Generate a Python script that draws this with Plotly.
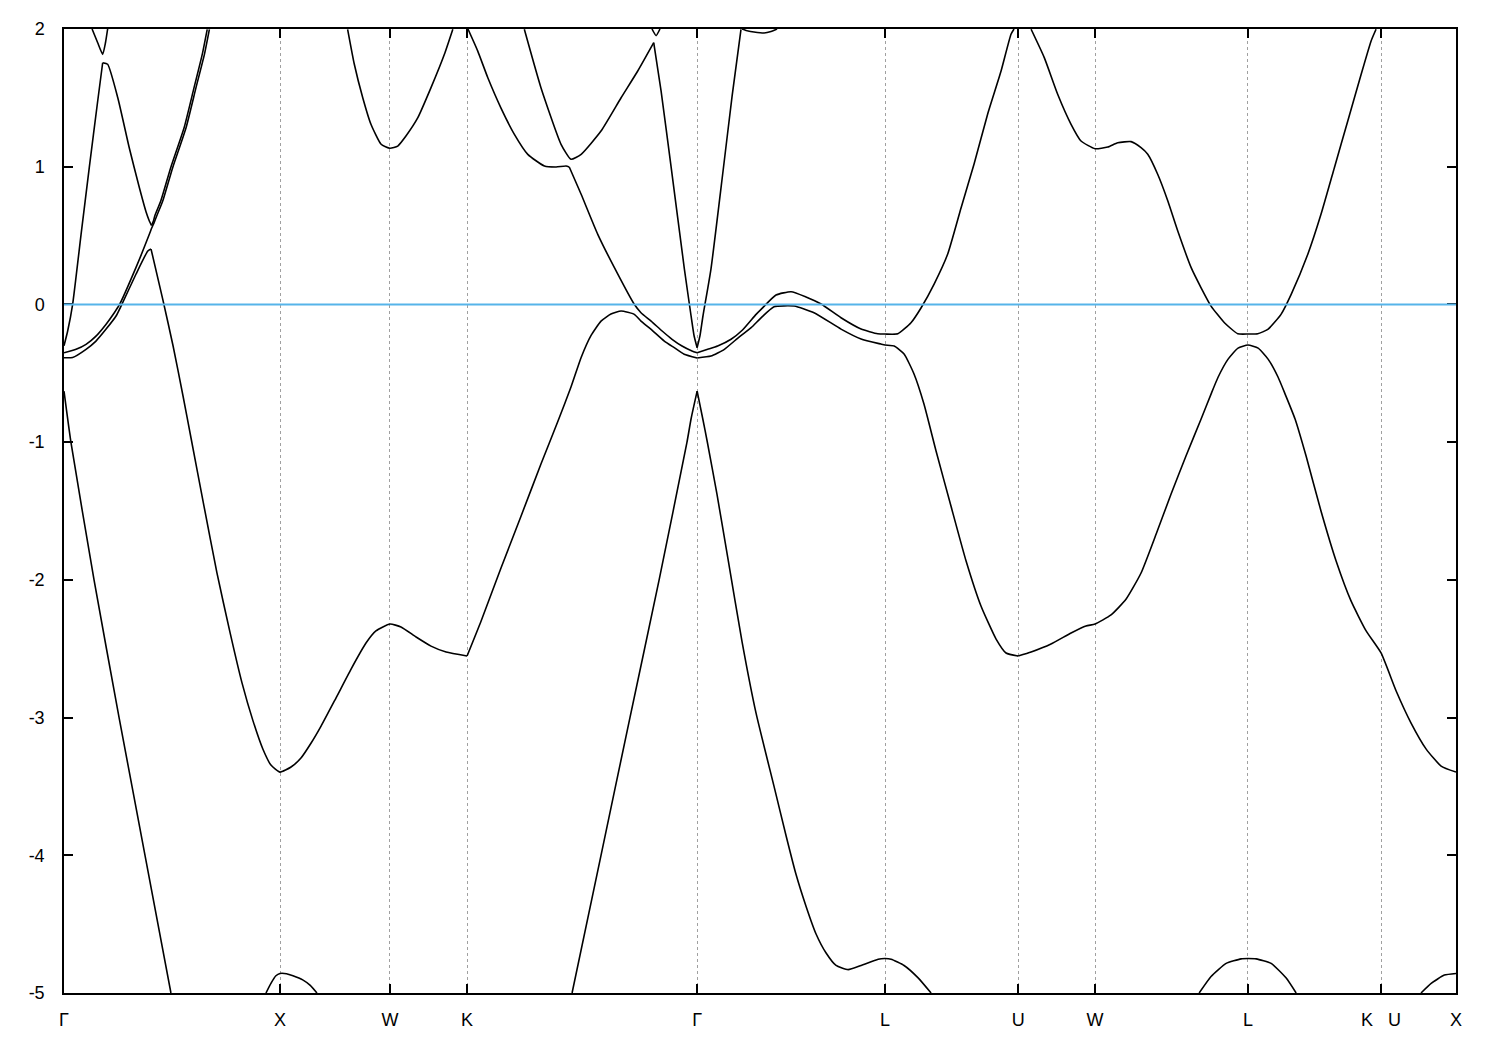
import plotly.graph_objects as go

# High-symmetry path (k in units of the Gamma-X distance)
k_ticks = [0, 1.0, 1.509, 1.866, 2.931, 3.801, 4.417, 4.773, 5.481, 6.097, 6.444]
k_labels = ["Γ", "X", "W", "K", "Γ", "L", "U", "W", "L", "K\u00a0\u00a0\u00a0U", "X"]
e_ticks = [-5, -4, -3, -2, -1, 0, 1, 2]
e_labels = ["-5", "-4", "-3", "-2", "-1", "0", "1", "2"]
E_fermi = 0.0

# ---- lowest band pieces ----
bandA_1_k = [0, 0.032, 0.139, 0.255, 0.375, 0.495]
bandA_1_E = [-0.63, -1.0, -2.0, -3.0, -4.0, -5.0]
bandA_2_k = [0.935, 0.958, 0.981, 1.0, 1.03, 1.06, 1.105, 1.14, 1.171]
bandA_2_E = [-5.0, -4.93, -4.875, -4.858, -4.86, -4.875, -4.905, -4.945, -5.0]
bandA_3_k = [2.352, 2.486, 2.620, 2.755, 2.884, 2.903, 2.931]
bandA_3_E = [-5.0, -4.0, -3.0, -2.0, -1.0, -0.83, -0.63]
bandA_4_k = [2.931, 2.957, 2.977, 3.023, 3.074, 3.139, 3.204, 3.287, 3.343, 3.389, 3.435,
             3.481, 3.528, 3.574, 3.630, 3.690, 3.769, 3.801, 3.829, 3.889, 3.954, 4.014]
bandA_4_E = [-0.63, -0.83, -0.99, -1.38, -1.85, -2.45, -2.97, -3.50, -3.86, -4.14, -4.37,
             -4.57, -4.71, -4.80, -4.83, -4.80, -4.755, -4.75, -4.755, -4.80, -4.89, -5.0]
bandA_5_k = [5.255, 5.310, 5.380, 5.449, 5.481, 5.519, 5.588, 5.657, 5.704]
bandA_5_E = [-5.0, -4.88, -4.785, -4.752, -4.75, -4.752, -4.785, -4.89, -5.0]
bandA_6_k = [6.282, 6.329, 6.390, 6.444]
bandA_6_E = [-5.0, -4.93, -4.87, -4.858]

# ---- band 1 ----
band1_a_k = [0, 0.040, 0.102, 0.148, 0.194, 0.241, 0.264, 0.333, 0.388, 0.403]
band1_a_E = [-0.387, -0.385, -0.326, -0.266, -0.181, -0.084, -0.012, 0.219, 0.388, 0.402]
band1_b_k = [0.403, 0.457, 0.505, 0.551, 0.588, 0.648, 0.708, 0.769, 0.824, 0.875, 0.921,
             0.958, 1.0, 1.051, 1.097, 1.144, 1.190, 1.259, 1.329, 1.398, 1.444, 1.509, 1.560,
             1.630, 1.699, 1.769, 1.866]
band1_b_E = [0.402, 0.039, -0.302, -0.665, -0.970, -1.464, -1.950, -2.385, -2.748, -3.024,
             -3.230, -3.345, -3.396, -3.359, -3.294, -3.185, -3.062, -2.858, -2.648, -2.459,
             -2.371, -2.321, -2.342, -2.415, -2.481, -2.524, -2.553]
band1_c_k = [1.866, 1.931, 2.023, 2.116, 2.208, 2.286, 2.347, 2.394, 2.440, 2.486, 2.532, 2.579,
             2.640, 2.671, 2.718, 2.779, 2.825, 2.871, 2.931]
band1_c_E = [-2.553, -2.299, -1.914, -1.536, -1.159, -0.850, -0.600, -0.385, -0.225, -0.121,
             -0.070, -0.048, -0.072, -0.121, -0.181, -0.266, -0.314, -0.362, -0.389]
band1_d_k = [2.931, 2.995, 3.057, 3.125, 3.181, 3.227, 3.287, 3.380, 3.472, 3.597, 3.690, 3.782,
             3.801, 3.843, 3.889, 3.935, 3.981, 4.037, 4.106, 4.176, 4.245, 4.315, 4.361, 4.417]
band1_d_E = [-0.389, -0.375, -0.326, -0.237, -0.169, -0.097, -0.017, -0.012, -0.060, -0.179,
             -0.251, -0.288, -0.295, -0.302, -0.360, -0.505, -0.723, -1.064, -1.464, -1.863,
             -2.190, -2.430, -2.531, -2.553]
band1_e_k = [4.417, 4.477, 4.569, 4.662, 4.731, 4.773, 4.847, 4.917, 4.986, 5.056, 5.125, 5.194,
             5.264, 5.310, 5.343, 5.389, 5.435, 5.481, 5.528, 5.574, 5.620, 5.653, 5.699, 5.750,
             5.819, 5.889, 5.958, 6.028, 6.097, 6.167, 6.236, 6.306, 6.375, 6.444]
band1_e_E = [-2.553, -2.524, -2.466, -2.386, -2.335, -2.321, -2.255, -2.139, -1.950, -1.667,
             -1.377, -1.101, -0.832, -0.651, -0.527, -0.397, -0.317, -0.295, -0.317, -0.397,
             -0.527, -0.651, -0.832, -1.101, -1.500, -1.863, -2.153, -2.371, -2.531, -2.807,
             -3.040, -3.229, -3.352, -3.396]

# ---- band 2 ----
band2_a_k = [0, 0.056, 0.102, 0.148, 0.194, 0.233, 0.256, 0.333, 0.395, 0.405, 0.417, 0.431,
             0.457, 0.503, 0.565, 0.611, 0.650, 0.673]
band2_a_E = [-0.351, -0.326, -0.290, -0.230, -0.145, -0.060, -0.004, 0.267, 0.509, 0.551,
             0.594, 0.649, 0.751, 0.993, 1.283, 1.574, 1.816, 1.998]
band2_b_k = [1.870, 1.915, 1.962, 2.023, 2.085, 2.147, 2.224, 2.278, 2.324, 2.339]
band2_b_E = [2.0, 1.841, 1.646, 1.426, 1.235, 1.090, 1.005, 0.998, 1.005, 0.998]
band2_c_k = [2.339, 2.394, 2.471, 2.548, 2.640, 2.671, 2.718, 2.769, 2.815, 2.861, 2.907, 2.931]
band2_c_E = [0.998, 0.800, 0.509, 0.267, 0.001, -0.060, -0.121, -0.193, -0.253, -0.302,
             -0.338, -0.351]
band2_d_k = [2.931, 2.980, 3.026, 3.088, 3.141, 3.204, 3.227, 3.296, 3.366, 3.435, 3.505, 3.597,
             3.690, 3.767, 3.801, 3.860, 3.921, 3.968, 4.028, 4.091, 4.153, 4.213, 4.276, 4.338,
             4.384, 4.398]
band2_d_E = [-0.351, -0.326, -0.302, -0.253, -0.186, -0.072, -0.036, 0.068, 0.092, 0.054, 0.003,
             -0.097, -0.179, -0.213, -0.215, -0.213, -0.133, -0.024, 0.148, 0.366, 0.702, 1.020,
             1.383, 1.695, 1.962, 2.0]
band2_e_k = [4.477, 4.538, 4.600, 4.662, 4.708, 4.773, 4.832, 4.878, 4.940, 4.986, 5.017, 5.063,
             5.110, 5.156, 5.218, 5.264, 5.310, 5.372, 5.434, 5.481, 5.526, 5.573, 5.634, 5.681,
             5.758, 5.819, 5.881, 5.943, 6.005, 6.051, 6.074]
band2_e_E = [1.998, 1.792, 1.526, 1.308, 1.187, 1.131, 1.143, 1.174, 1.182, 1.138, 1.090, 0.945,
             0.751, 0.533, 0.267, 0.121, -0.012, -0.133, -0.213, -0.215, -0.213, -0.181, -0.072,
             0.073, 0.364, 0.654, 0.993, 1.332, 1.671, 1.913, 1.998]

# ---- band 3 ----
band3_a_k = [0, 0.017, 0.040, 0.079, 0.117, 0.156, 0.179]
band3_a_E = [-0.30, -0.193, 0.001, 0.509, 0.993, 1.477, 1.755]
band3_b_k = [0.179, 0.202, 0.249, 0.302, 0.349, 0.380, 0.395, 0.405]
band3_b_E = [1.755, 1.744, 1.501, 1.138, 0.847, 0.671, 0.606, 0.573]
band3_c_k = [0.405, 0.414, 0.421, 0.448, 0.494, 0.556, 0.602, 0.640, 0.663]
band3_c_E = [0.573, 0.606, 0.646, 0.751, 0.993, 1.283, 1.574, 1.816, 1.998]

# ---- upper bands ----
band4_k = [0.130, 0.156, 0.179, 0.192, 0.202]
band4_E = [2.0, 1.90, 1.816, 1.90, 2.0]
band5_k = [1.313, 1.344, 1.383, 1.421, 1.468, 1.509, 1.545, 1.583, 1.638, 1.699, 1.761, 1.800]
band5_E = [1.998, 1.744, 1.501, 1.308, 1.163, 1.134, 1.150, 1.223, 1.356, 1.574, 1.816, 1.998]
band6_a_k = [2.131, 2.208, 2.301, 2.347, 2.394, 2.486, 2.579, 2.656, 2.730]
band6_a_E = [1.998, 1.574, 1.163, 1.054, 1.090, 1.259, 1.501, 1.695, 1.901]
band6_b_k = [2.730, 2.764, 2.810, 2.872, 2.903, 2.917, 2.931]
band6_b_E = [1.901, 1.550, 1.005, 0.257, -0.084, -0.229, -0.314]
band6_c_k = [2.931, 2.944, 2.958, 2.995, 3.051, 3.093, 3.134]
band6_c_E = [-0.314, -0.229, -0.084, 0.257, 0.969, 1.514, 1.998]
band7_k = [2.722, 2.741, 2.759]
band7_E = [2.0, 1.952, 2.0]
band8_k = [3.139, 3.167, 3.194, 3.241, 3.273, 3.301]
band8_E = [2.0, 1.985, 1.978, 1.971, 1.982, 2.0]

segments = [
    (bandA_1_k, bandA_1_E), (bandA_2_k, bandA_2_E), (bandA_3_k, bandA_3_E),
    (bandA_4_k, bandA_4_E), (bandA_5_k, bandA_5_E), (bandA_6_k, bandA_6_E),
    (band1_a_k, band1_a_E), (band1_b_k, band1_b_E), (band1_c_k, band1_c_E),
    (band1_d_k, band1_d_E), (band1_e_k, band1_e_E),
    (band2_a_k, band2_a_E), (band2_b_k, band2_b_E), (band2_c_k, band2_c_E),
    (band2_d_k, band2_d_E), (band2_e_k, band2_e_E),
    (band3_a_k, band3_a_E), (band3_b_k, band3_b_E), (band3_c_k, band3_c_E),
    (band4_k, band4_E), (band5_k, band5_E),
    (band6_a_k, band6_a_E), (band6_b_k, band6_b_E), (band6_c_k, band6_c_E),
    (band7_k, band7_E), (band8_k, band8_E),
]

fig = go.Figure()
for kk, ee in segments:
    fig.add_trace(go.Scatter(
        x=kk, y=ee, mode="lines",
        line=dict(color="black", width=1.6, shape="spline", smoothing=0.5),
        hoverinfo="skip", showlegend=False,
    ))

fig.add_hline(y=E_fermi, line=dict(color="#56B4E9", width=2), layer="above")

font = dict(family="Liberation Sans, Arial, sans-serif", size=18, color="black")
fig.update_layout(
    width=1493, height=1043,
    margin=dict(l=56, r=45, t=21, b=58),
    paper_bgcolor="white", plot_bgcolor="white",
    font=font,
    xaxis=dict(
        range=[k_ticks[0], k_ticks[-1]], tickmode="array", tickvals=k_ticks, ticktext=k_labels,
        tickangle=0,
        ticks="inside", ticklen=9, tickwidth=1.5, tickcolor="black",
        showline=True, linecolor="black", linewidth=1.5, mirror="ticks",
        showgrid=True, gridcolor="#a0a0a0", gridwidth=1, griddash="3px,3px",
        zeroline=False, tickfont=font, ticklabelstandoff=10,
    ),
    yaxis=dict(
        range=[-5, 2], tickmode="array", tickvals=e_ticks, ticktext=e_labels,
        ticks="inside", ticklen=9, tickwidth=1.5, tickcolor="black",
        showline=True, linecolor="black", linewidth=1.5, mirror="ticks",
        showgrid=False, zeroline=False, tickfont=font, ticklabelstandoff=14,
    ),
)

fig.write_html("out.html")
